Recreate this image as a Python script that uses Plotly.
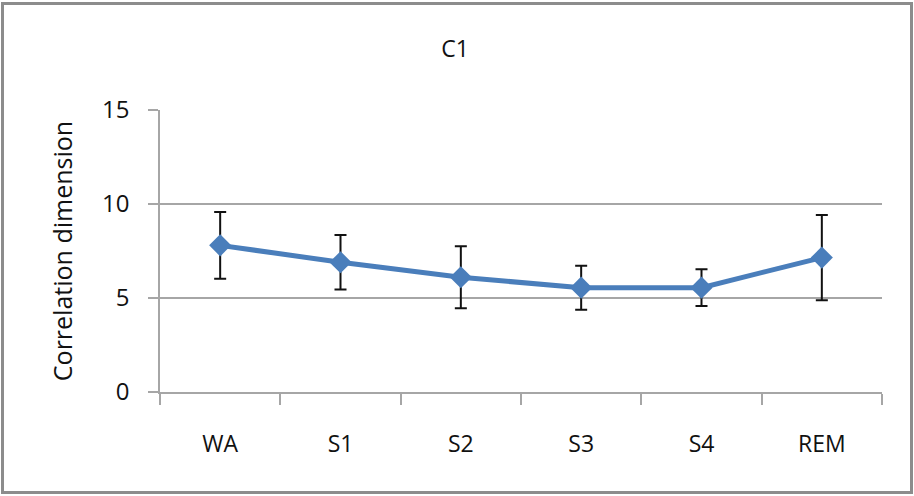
import plotly.graph_objects as go

# Sleep stage data: mean correlation dimension with error (± SD)
stages = ["WA", "S1", "S2", "S3", "S4", "REM"]
mean_dim = [7.8, 6.9, 6.1, 5.55, 5.55, 7.15]
err_dim = [1.78, 1.45, 1.65, 1.17, 0.98, 2.27]
y_ticks = [0, 5, 10, 15]

FONT = "Open Sans"
GRID = "#a6a6a6"
BLUE = "#4a7ebb"
TEXT = "#111111"

fig = go.Figure()
fig.add_trace(go.Scatter(
    x=stages,
    y=mean_dim,
    mode="lines+markers",
    line=dict(color=BLUE, width=5),
    marker=dict(symbol="diamond", size=17, color=BLUE),
    error_y=dict(type="data", array=err_dim, visible=True,
                 color=TEXT, thickness=2, width=6),
    showlegend=False,
))

# gray frame around the whole chart
fig.add_shape(type="rect", xref="paper", yref="paper",
              x0=(2.5 - 160) / 722, x1=(911.5 - 160) / 722,
              y0=(392 - 492.5) / 282, y1=(392 - 3.5) / 282,
              line=dict(color="#8c8c8c", width=3), layer="below")

fig.update_layout(
    width=914, height=496,
    margin=dict(l=160, r=32, t=110, b=104),
    paper_bgcolor="white",
    plot_bgcolor="white",
    font=dict(family=FONT, color=TEXT),
    title=dict(text="C1", x=(455 - 160) / 722, xref="paper", xanchor="center",
               y=1 - 49 / 496, yanchor="middle",
               font=dict(family=FONT, size=23, color=TEXT)),
)
fig.update_xaxes(
    type="category",
    showgrid=False,
    showline=True, linecolor=GRID, linewidth=1.5,
    ticks="outside", tickson="boundaries", ticklen=11,
    tickcolor=GRID, tickwidth=1.5,
    ticklabelstandoff=31,
    tickfont=dict(family=FONT, size=23, color=TEXT),
    range=[-0.5, 5.5],
)
fig.update_yaxes(
    range=[0, 15],
    tickvals=y_ticks,
    showgrid=True, gridcolor=GRID, gridwidth=1.5,
    zeroline=False,
    showline=True, linecolor=GRID, linewidth=1.5,
    ticks="outside", ticklen=10, tickcolor=GRID, tickwidth=1.5,
    ticklabelstandoff=14,
    tickfont=dict(family=FONT, size=24, color=TEXT),
    title=dict(text="Correlation dimension", standoff=22,
               font=dict(family=FONT, size=25, color=TEXT)),
)

fig.write_html("out.html")
